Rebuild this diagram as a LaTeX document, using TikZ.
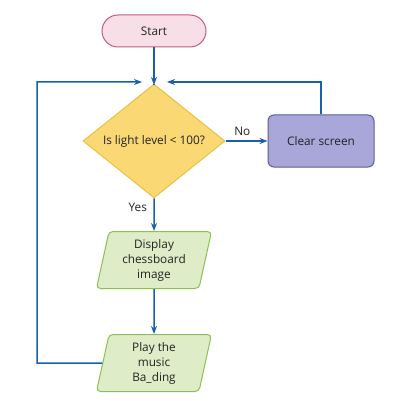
\documentclass[tikz,border=0pt]{standalone}
\usepackage{fontspec}
\setmainfont{Open Sans}
\usetikzlibrary{arrows.meta, shapes.geometric}
\definecolor{flowblue}{HTML}{1A5FAD}
\definecolor{pinkfill}{HTML}{F8DEE7}
\definecolor{pinkline}{HTML}{C65A7E}
\definecolor{yellowfill}{HTML}{FAD975}
\definecolor{yellowline}{HTML}{EBBE44}
\definecolor{lilacfill}{HTML}{A9A7DA}
\definecolor{lilacline}{HTML}{5C599C}
\definecolor{greenfill}{HTML}{DEEDC7}
\definecolor{greenline}{HTML}{8BC052}
\definecolor{inktext}{HTML}{222222}

\tikzset{
  flowtext/.style={text=inktext, font=\fontsize{11.8}{15}\selectfont, align=center},
  terminal/.style={flowtext, draw=pinkline, fill=pinkfill, line width=1pt,
    rounded corners=16pt, minimum width=104pt, minimum height=32pt},
  decision/.style={flowtext, diamond, draw=yellowline, fill=yellowfill, line width=1pt,
    minimum width=142pt, minimum height=95pt, inner sep=0pt},
  process/.style={flowtext, draw=lilacline, fill=lilacfill, line width=1pt,
    rounded corners=6pt, minimum width=106pt, minimum height=52pt},
  inout/.style={flowtext, trapezium, trapezium left angle=74, trapezium right angle=106,
    trapezium stretches body, draw=greenline, fill=greenfill, line width=1pt,
    rounded corners=4pt, minimum width=115pt, minimum height=57pt, inner sep=1pt},
  flow/.style={flowblue, line width=1.5pt},
  edgelabel/.style={text=inktext, font=\fontsize{11.8}{13}\selectfont}
}

\begin{document}
\begin{tikzpicture}[x=1pt, y=-1pt, >={Stealth[length=8pt, width=6pt]}]

% Canvas
\useasboundingbox (0,0) rectangle (404,401);

% --- Nodes ---
\node[terminal] (start) at (154,31) {Start};
\node[decision] (light) at (154,141) {Is light level < 100?};
\node[process] (clear) at (321,141) {Clear screen};
\node[inout] (display) at (154,260) {Display\\chessboard\\image};
\node[inout] (play) at (154,363) {Play the\\music\\Ba\_ding};

% --- Helper points ---
\coordinate (merge) at (154,85);
\coordinate (leftin) at (142,82);
\coordinate (rightin) at (167,82);
\coordinate (leftcorner) at (37,363);
\coordinate (rightcorner) at (321,82);

% --- Connectors ---
\draw[flow, ->] (start) -- (merge);
\draw[flow] (merge) -- (light.north);

\draw[flow, ->] (light.east) -- node[edgelabel, above=1pt, pos=0.4] {No} (clear.west);
\draw[flow, ->] (light.south) -- node[edgelabel, left=3pt, pos=0.28] {Yes} (display.north);
\draw[flow, ->] (display.south) -- (play.north);

% loop back from the output
\draw[flow, ->] (play.west) -- (leftcorner) |- (leftin);
% loop back from clearing
\draw[flow, ->] (clear.north) -- (rightcorner) -- (rightin);

\end{tikzpicture}
\end{document}
